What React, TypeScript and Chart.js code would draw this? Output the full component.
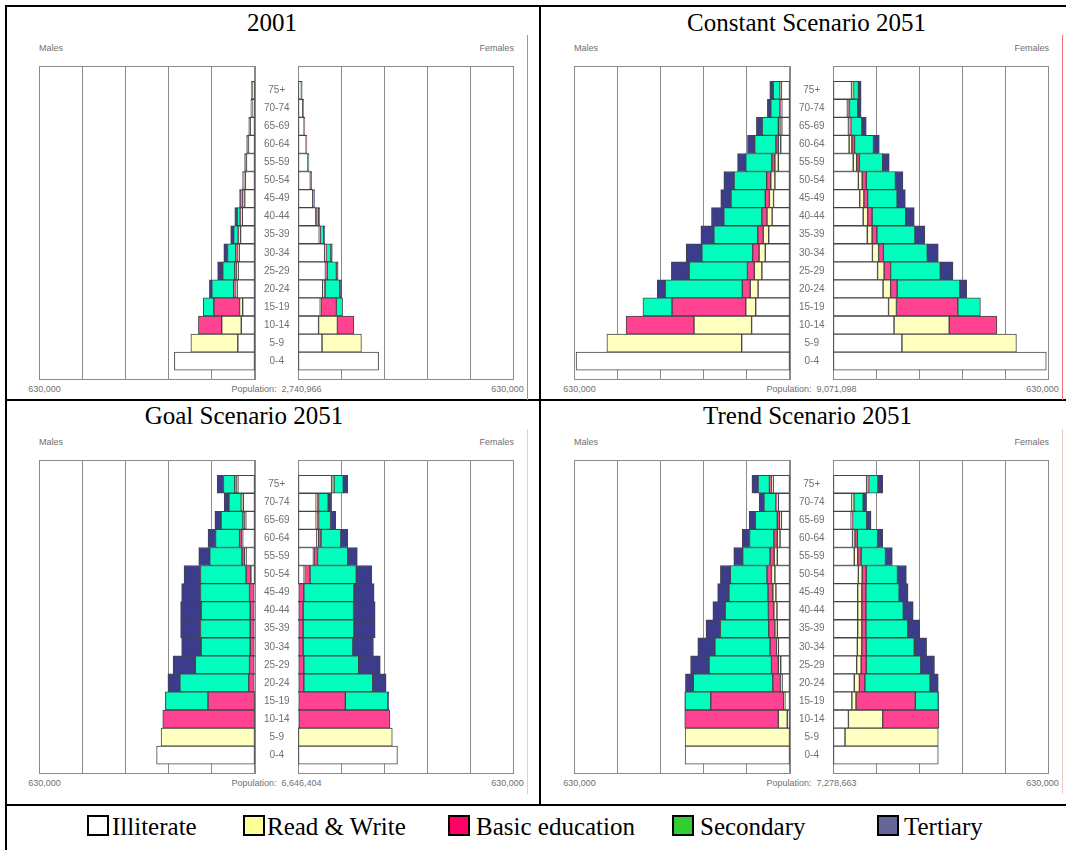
import React, { useEffect, useRef } from 'react';
import { Chart, registerables } from 'chart.js';

Chart.register(...registerables);

// ---------- categories / labels ----------
const ageGroups = ['75+', '70-74', '65-69', '60-64', '55-59', '50-54', '45-49', '40-44', '35-39', '30-34', '25-29', '20-24', '15-19', '10-14', '5-9', '0-4'];
const educationLevels = ['Illiterate', 'Read & Write', 'Basic education', 'Secondary', 'Tertiary'];
const barColors = ['#FFFFFF', '#FFFFC0', '#FF4291', '#00FFBF', '#3C3C8C'];
const legendColors = ['#FFFFFF', '#FFFF99', '#FF0066', '#33CC33', '#666699'];
const axisMax = 630; // thousands of people (630,000)
const axisStep = 126;
const axisEndLabel = '630,000';

const panelTitles = ['2001', 'Constant Scenario 2051', 'Goal Scenario 2051', 'Trend Scenario 2051'];
const panelPopulations = ['2,740,966', '9,071,098', '6,646,404', '7,278,663'];

// ---------- values (thousands), ages 75+ down to 0-4 ----------
// 2001
const m2001Illiterate = [7, 9, 14, 19, 25, 28, 30, 37, 42, 46, 49, 52, 36, 40, 50, 235];
const m2001ReadWrite = [1, 1, 1, 1.5, 1.5, 3, 5, 5, 6, 6, 5, 6, 9, 57, 137, 0];
const m2001Basic = [0.5, 0.5, 1, 1, 1, 1, 1, 1, 1, 4, 5, 4, 75, 68, 0, 0];
const m2001Secondary = [1, 1, 1.5, 2, 2, 3, 6, 9, 13, 24, 35, 64, 31, 0, 0, 0];
const m2001Tertiary = [0.5, 0.5, 0.5, 0.5, 0.5, 1, 3, 7, 9, 11, 15, 7, 0, 0, 0, 0];
const f2001Illiterate = [10, 14, 18, 24, 29, 36, 43, 52, 62, 78, 80, 72, 65, 60, 70, 235];
const f2001ReadWrite = [0.5, 0.5, 0.5, 0.5, 0.5, 0.5, 0.5, 1, 2, 3, 2, 5, 2, 55, 115, 0];
const f2001Basic = [0.5, 0.5, 0.5, 0.5, 0.5, 0.5, 0.5, 0.5, 1, 2, 3, 3, 45, 48, 0, 0];
const f2001Secondary = [0.5, 0.5, 0.5, 0.5, 1.5, 2, 3, 7, 10, 13, 27, 42, 18, 0, 0, 0];
const f2001Tertiary = [0.5, 0.5, 0.5, 0.5, 0.5, 1, 1, 2.5, 3, 4, 5, 5, 0, 0, 0, 0];

// Constant Scenario 2051
const mConstIlliterate = [25, 24, 24, 27, 34, 44, 48, 52, 62, 72, 82, 93, 100, 112, 141, 624];
const mConstReadWrite = [3, 3, 4, 7, 10, 12, 12, 15, 16, 18, 22, 23, 29, 168, 393, 0];
const mConstBasic = [1, 2, 6, 7, 9, 12, 12, 15, 16, 19, 20, 23, 215, 198, 0, 0];
const mConstSecondary = [20, 27, 47, 62, 76, 95, 100, 111, 128, 148, 170, 225, 85, 0, 0, 0];
const mConstTertiary = [10, 10, 17, 21, 24, 30, 30, 36, 38, 46, 52, 23, 0, 0, 0, 0];
const fConstIlliterate = [54, 42, 45, 47, 59, 74, 78, 88, 100, 115, 130, 146, 162, 178, 201, 622];
const fConstReadWrite = [4, 3, 4, 8, 10, 11, 12, 13, 14, 18, 19, 22, 23, 161, 334, 0];
const fConstBasic = [2, 3, 3, 8, 8, 12, 11, 13, 14, 14, 19, 19, 179, 139, 0, 0];
const fConstSecondary = [14, 24, 32, 55, 68, 85, 86, 98, 111, 128, 145, 183, 66, 0, 0, 0];
const fConstTertiary = [8, 10, 13, 17, 19, 22, 24, 25, 29, 32, 37, 20, 0, 0, 0, 0];

// Goal Scenario 2051
const mGoalIlliterate = [50, 34, 27, 36, 26, 12, 2, 2, 2, 2, 2, 2, 0, 0, 0, 287];
const mGoalReadWrite = [4, 3, 3, 2, 4, 0, 0, 0, 0, 0, 0, 0, 0, 0, 274, 0];
const mGoalBasic = [5, 3, 5, 7, 8, 14, 14, 12, 12, 12, 14, 16, 137, 269, 0, 0];
const mGoalSecondary = [33, 36, 64, 70, 94, 133, 143, 143, 145, 143, 158, 201, 124, 0, 0, 0];
const mGoalTertiary = [18, 14, 18, 22, 32, 48, 55, 60, 58, 57, 65, 35, 1, 0, 0, 0];
const fGoalIlliterate = [98, 53, 53, 55, 45, 18, 2, 2, 2, 2, 2, 2, 2, 3, 0, 290];
const fGoalReadWrite = [3, 3, 3, 4, 2, 1, 0, 0, 0, 0, 0, 0, 0, 0, 275, 0];
const fGoalBasic = [4, 4, 4, 8, 10, 16, 15, 13, 13, 13, 15, 15, 136, 265, 0, 0];
const fGoalSecondary = [27, 28, 35, 58, 88, 135, 146, 147, 148, 145, 160, 201, 124, 0, 0, 0];
const fGoalTertiary = [13, 10, 15, 20, 28, 45, 59, 63, 62, 60, 63, 39, 3, 0, 0, 0];

// Trend Scenario 2051
const mTrendIlliterate = [49, 34, 25, 29, 37, 44, 41, 38, 37, 34, 27, 23, 15, 8, 0, 306];
const mTrendReadWrite = [5, 4, 5, 8, 9, 10, 9, 9, 7, 5, 7, 5, 3, 26, 306, 0];
const mTrendBasic = [6, 3, 7, 10, 12, 13, 14, 16, 18, 19, 20, 22, 213, 273, 0, 0];
const mTrendSecondary = [33, 35, 64, 71, 80, 107, 114, 126, 141, 161, 182, 232, 75, 0, 0, 0];
const mTrendTertiary = [18, 14, 18, 21, 26, 29, 33, 36, 42, 50, 54, 23, 1, 0, 0, 0];
const fTrendIlliterate = [98, 55, 53, 57, 62, 74, 72, 72, 72, 71, 69, 62, 55, 45, 35, 307];
const fTrendReadWrite = [3, 3, 2, 7, 10, 11, 12, 12, 12, 13, 13, 15, 12, 100, 272, 0];
const fTrendBasic = [3, 3, 2, 7, 10, 12, 12, 12, 12, 13, 15, 16, 173, 164, 0, 0];
const fTrendSecondary = [27, 27, 41, 59, 71, 91, 97, 109, 122, 140, 159, 190, 67, 0, 0, 0];
const fTrendTertiary = [14, 10, 13, 15, 20, 26, 26, 29, 35, 36, 40, 24, 2, 0, 0, 0];

const males = [
  [m2001Illiterate, m2001ReadWrite, m2001Basic, m2001Secondary, m2001Tertiary],
  [mConstIlliterate, mConstReadWrite, mConstBasic, mConstSecondary, mConstTertiary],
  [mGoalIlliterate, mGoalReadWrite, mGoalBasic, mGoalSecondary, mGoalTertiary],
  [mTrendIlliterate, mTrendReadWrite, mTrendBasic, mTrendSecondary, mTrendTertiary],
];
const females = [
  [f2001Illiterate, f2001ReadWrite, f2001Basic, f2001Secondary, f2001Tertiary],
  [fConstIlliterate, fConstReadWrite, fConstBasic, fConstSecondary, fConstTertiary],
  [fGoalIlliterate, fGoalReadWrite, fGoalBasic, fGoalSecondary, fGoalTertiary],
  [fTrendIlliterate, fTrendReadWrite, fTrendBasic, fTrendSecondary, fTrendTertiary],
];

const SANS = '"Liberation Sans", Arial, sans-serif';
const SERIF = '"Liberation Serif", "Times New Roman", serif';
const SMALL_GRAY = '#707070';

const framePlugin = {
  id: 'plotFrame',
  beforeDatasetsDraw(chart: any) {
    const { ctx, chartArea: a } = chart;
    ctx.save();
    ctx.strokeStyle = '#8a8a8a';
    ctx.lineWidth = 1;
    ctx.strokeRect(Math.round(a.left) + 0.5, Math.round(a.top) + 0.5, Math.round(a.right - a.left) - 1, Math.round(a.bottom - a.top) - 1);
    ctx.restore();
  },
};

const PLOT_W = 216;
const GAP_W = 43;
const PLOT_H = 314;

function HalfPyramid({ side, series, left, top }: { side: 'male' | 'female'; series: number[][]; left: number; top: number }) {
  const ref = useRef<HTMLCanvasElement>(null);
  const isMale = side === 'male';
  const width = isMale ? PLOT_W + GAP_W : PLOT_W;
  useEffect(() => {
    const yAxis: any = {
      type: 'linear',
      reverse: true,
      min: -0.8,
      max: 15.5,
      stacked: true,
      position: 'right',
      display: isMale,
      grid: { display: false, drawTicks: false },
      border: { display: false },
      afterBuildTicks: (s: any) => { s.ticks = ageGroups.map((_, i) => ({ value: i })); },
      ticks: {
        autoSkip: false,
        crossAlign: 'center',
        padding: 9,
        color: SMALL_GRAY,
        font: { family: SANS, size: 10 },
        callback: (v: any) => ageGroups[v as number],
      },
    };
    if (isMale) {
      yAxis.afterFit = (s: any) => {
        s.width = GAP_W;
        s.paddingTop = 0;
        s.paddingBottom = 0;
      };
    }
    const chart = new Chart(ref.current as HTMLCanvasElement, {
      type: 'bar',
      data: {
        datasets: educationLevels.map((name, k) => ({
          label: name,
          data: series[k].map((v, i) => ({ x: v, y: i })),
          backgroundColor: barColors[k],
          borderColor: '#444444',
          borderWidth: 1,
          borderSkipped: false,
          barPercentage: 1,
          categoryPercentage: 1,
        })),
      },
      options: {
        indexAxis: 'y',
        responsive: false,
        animation: false,
        events: [],
        layout: { padding: 0 },
        plugins: { legend: { display: false }, tooltip: { enabled: false }, title: { display: false } },
        scales: {
          x: {
            type: 'linear',
            min: 0,
            max: axisMax,
            reverse: isMale,
            stacked: true,
            ticks: { display: false, stepSize: axisStep },
            grid: { color: '#8a8a8a', lineWidth: 1, drawTicks: false },
            border: { display: false },
            afterFit: (s: any) => {
              s.height = 0;
              s.paddingLeft = 0;
              s.paddingRight = 0;
            },
          },
          y: yAxis,
        },
      } as any,
      plugins: [framePlugin],
    });
    return () => chart.destroy();
  }, []);
  return (
    <canvas
      ref={ref}
      width={width}
      height={PLOT_H}
      style={{ position: 'absolute', left, top, width, height: PLOT_H, display: 'block' }}
    />
  );
}

function Txt({ x, y, children, align = 'center', style }: any) {
  const tx = align === 'center' ? '-50%' : align === 'right' ? '-100%' : '0';
  return (
    <div
      style={{
        position: 'absolute',
        left: x,
        top: y,
        transform: `translate(${tx}, -50%)`,
        whiteSpace: 'pre',
        lineHeight: 1,
        ...style,
      }}
    >
      {children}
    </div>
  );
}

function Panel({ idx, ox, oy, titleX, titleY, redColor }: any) {
  const small = { fontFamily: SANS, fontSize: 9, color: SMALL_GRAY };
  return (
    <>
      <Txt x={titleX} y={titleY} style={{ fontFamily: SERIF, fontSize: 25, color: '#000' }}>{panelTitles[idx]}</Txt>
      <Txt x={ox + 39} y={oy + 48} align="left" style={small}>Males</Txt>
      <Txt x={ox + 514} y={oy + 48} align="right" style={small}>Females</Txt>
      <HalfPyramid side="male" series={males[idx]} left={ox + 39} top={oy + 66} />
      <HalfPyramid side="female" series={females[idx]} left={ox + 39 + PLOT_W + GAP_W} top={oy + 66} />
      <Txt x={ox + 44.5} y={oy + 389} style={small}>{axisEndLabel}</Txt>
      <Txt x={ox + 507.5} y={oy + 389} style={small}>{axisEndLabel}</Txt>
      <Txt x={ox + 276.5} y={oy + 389} style={small}>{`Population:  ${panelPopulations[idx]}`}</Txt>
      <div style={{ position: 'absolute', left: ox + 527, top: oy + 35, width: 1, height: 365, background: redColor }} />
    </>
  );
}

const legendBoxX = [87, 243, 448, 672, 877];
const legendTextX = [112, 267, 476, 700, 904];

export default function App() {
  useEffect(() => {
    document.body.style.margin = '0';
  }, []);
  const line = (l: number, t: number, w: number, h: number) => (
    <div style={{ position: 'absolute', left: l, top: t, width: w, height: h, background: '#000' }} />
  );
  return (
    <div style={{ position: 'fixed', left: 0, top: 0, width: 1066, height: 850, background: '#fff', overflow: 'hidden' }}>
      {line(5, 5, 1061, 2)}
      {line(5, 5, 2, 845)}
      {line(539, 5, 2, 801)}
      {line(5, 399, 1061, 2)}
      {line(5, 804, 1061, 2)}

      <Panel idx={0} ox={0} oy={0} titleX={272} titleY={22} redColor="#EE7373" />
      <Panel idx={1} ox={535} oy={0} titleX={806.5} titleY={22} redColor="#EE7373" />
      <Panel idx={2} ox={0} oy={394} titleX={244} titleY={415} redColor="#F5C6C6" />
      <Panel idx={3} ox={535} oy={394} titleX={807.5} titleY={415} redColor="#F5C6C6" />

      {educationLevels.map((name, k) => (
        <React.Fragment key={name}>
          <div
            style={{
              position: 'absolute',
              left: legendBoxX[k],
              top: 815,
              width: 22,
              height: 21,
              boxSizing: 'border-box',
              border: '2px solid #000',
              background: legendColors[k],
            }}
          />
          <Txt x={legendTextX[k]} y={826} align="left" style={{ fontFamily: SERIF, fontSize: 25, color: '#000' }}>
            {name}
          </Txt>
        </React.Fragment>
      ))}
    </div>
  );
}
